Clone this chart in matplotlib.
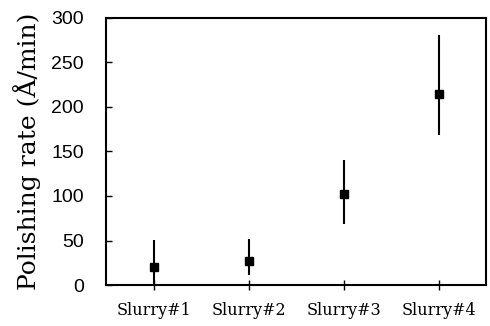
import matplotlib
matplotlib.use("Agg")
import matplotlib.pyplot as plt
import numpy as np

categories = ["Slurry#1", "Slurry#2", "Slurry#3", "Slurry#4"]
rate = [20, 27, 102, 215]
err_low = [20, 16, 34, 46]
err_high = [31, 25, 39, 66]
yticks = [0, 50, 100, 150, 200, 250, 300]

plt.rcParams['font.family'] = ['DejaVu Serif']
fig = plt.figure(figsize=(4.9, 3.26), dpi=100)
ax = fig.add_axes([106/490, 1-285/326, 380/490, 267/326])
x = np.arange(1, len(categories)+1)
ax.errorbar(x, rate, yerr=[err_low, err_high], fmt='s', color='black',
            markersize=6, elinewidth=1.5, capsize=0)
ax.set_xlim(0.5, 4.5)
ax.set_ylim(0, 300)
ax.set_xticks(x)
ax.set_xticklabels(categories, fontsize=11.5)
ax.set_yticks(yticks)
ax.set_yticklabels([str(t) for t in yticks], fontsize=14, family='Liberation Sans')
ax.tick_params(axis='x', direction='inout', length=7, width=1, pad=9)
ax.tick_params(axis='y', direction='in', length=4, width=1, pad=16)
for s in ax.spines.values():
    s.set_linewidth(1.5)
ax.set_ylabel("Polishing rate (Å/min)", fontsize=18)
ax.yaxis.set_label_coords(-0.172, 0.5)
fig.savefig("out.png", dpi=100)
